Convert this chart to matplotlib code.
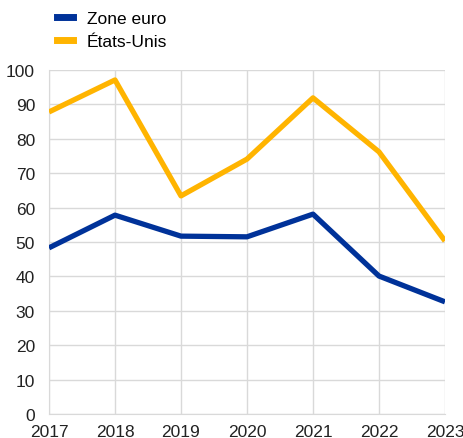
import matplotlib.pyplot as plt
from matplotlib.lines import Line2D

years = [2017, 2018, 2019, 2020, 2021, 2022, 2023]
zone_euro = [48.3, 57.8, 51.7, 51.5, 58.1, 40.1, 32.6]
etats_unis = [87.8, 97.1, 63.4, 74.1, 91.9, 76.2, 50.3]
labels = ["Zone euro", "États-Unis"]
colors = ["#003299", "#FFB400"]

plt.rcParams["font.family"] = ["Liberation Sans", "DejaVu Sans"]

fig = plt.figure(figsize=(4.63, 4.39), dpi=100)
ax = fig.add_axes([0.1058, 0.0547, 0.8553, 0.7836])

for ys, c in zip([zone_euro, etats_unis], colors):
    ax.plot(years, ys, color=c, lw=3.8, solid_capstyle="butt", zorder=3)

ax.set_xlim(2017, 2023)
ax.set_ylim(0, 100)
ax.set_xticks(years)
ax.set_yticks(range(0, 101, 10))
ax.grid(True, color="#d9d9d9", lw=1)
for s in ["top", "right"]:
    ax.spines[s].set_visible(False)
for s in ["left", "bottom"]:
    ax.spines[s].set_color("#d9d9d9")
ax.tick_params(length=0, labelsize=12.5, colors="#222222")
ax.tick_params(axis="x", pad=7)
ax.tick_params(axis="y", pad=10)

handles = [Line2D([0], [0], color=c, lw=5) for c in colors]
fig.legend(handles, labels, loc="upper left", bbox_to_anchor=(0.09, 1.008),
           frameon=False, fontsize=12.5, handlelength=0.9, handletextpad=0.8,
           labelspacing=0.45)

fig.savefig("out.png", dpi=100)
